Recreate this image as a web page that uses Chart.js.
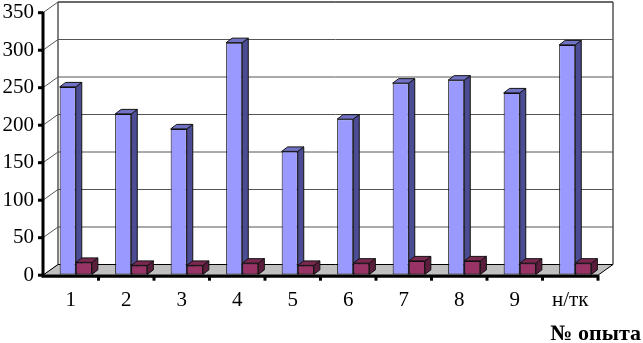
<!doctype html>
<html lang="ru">
<head>
<meta charset="utf-8">
<title>№ опыта</title>
<script src="https://cdn.jsdelivr.net/npm/chart.js@4/dist/chart.umd.min.js"></script>
<style>
  html, body { margin: 0; padding: 0; background: #fff; }
</style>
</head>
<body>
<canvas id="myChart" width="643" height="343"></canvas>
<script>
var categories = ["1", "2", "3", "4", "5", "6", "7", "8", "9", "н/тк"];
var seriesBlue = [250, 214, 194, 309, 164, 207, 255, 259, 242, 306];
var seriesRed = [16, 12, 12, 15, 12, 15, 18, 18, 15, 15];
var yMin = 0, yMax = 350, yStep = 50;
var axisTitle = "№ опыта";

// depth of the walls and of the bars
var WX = 15, WY = -10.7;
var BX = 6, BY = -4.5;
var SHIFT_X = 5, SHIFT_Y = -0.8;

var faces = [
  { side: "#4c4c94", top: "#7272c4" },
  { side: "#5a1d3b", top: "#7a2850" }
];

function box(ctx, pts, fill, stroke, lw) {
  ctx.beginPath();
  ctx.moveTo(pts[0][0], pts[0][1]);
  for (var i = 1; i < pts.length; i++) ctx.lineTo(pts[i][0], pts[i][1]);
  ctx.closePath();
  if (fill) { ctx.fillStyle = fill; ctx.fill(); }
  if (stroke) { ctx.strokeStyle = stroke; ctx.lineWidth = lw || 1; ctx.stroke(); }
}

function barFaces(ctx, bar, f) {
  var p = bar.getProps(["x", "y", "base", "width"], true);
  var l = p.x - p.width / 2, r = p.x + p.width / 2;
  var t = Math.min(p.y, p.base), b = Math.max(p.y, p.base);
  box(ctx, [[r, b], [r + BX, b + BY], [r + BX, t + BY], [r, t]], f.side, "#111", 1);
  box(ctx, [[l, t], [l + BX, t + BY], [r + BX, t + BY], [r, t]], f.top, "#111", 1);
}

function noPad(s) {
  s.paddingTop = 0; s.paddingBottom = 0; s.paddingLeft = 0; s.paddingRight = 0;
}

var frame3d = {
  id: "frame3d",
  beforeDatasetsDraw: function(chart) {
    var ctx = chart.ctx, a = chart.chartArea, y = chart.scales.y;
    var L = a.left, R = a.right, T = y.getPixelForValue(yMax), B = y.getPixelForValue(yMin);
    ctx.save();
    box(ctx, [[L + WX, T + WY], [R + WX, T + WY], [R + WX, B + WY], [L + WX, B + WY]], "#fff", "#000", 1);
    ctx.strokeStyle = "#555";
    ctx.lineWidth = 1;
    for (var v = yMin; v <= yMax; v += yStep) {
      var p = y.getPixelForValue(v);
      ctx.beginPath();
      ctx.moveTo(L, p);
      ctx.lineTo(L + WX, p + WY);
      ctx.lineTo(R + WX, p + WY);
      ctx.stroke();
    }
    box(ctx, [[L, B], [R, B], [R + WX, B + WY], [L + WX, B + WY]], "#c0c0c0", "#000", 1);
    ctx.restore();
    ctx.save();
    ctx.translate(SHIFT_X, SHIFT_Y);
  },
  afterDatasetsDraw: function(chart) {
    var ctx = chart.ctx;
    // blue faces, then the red bars again so they sit in front of the blue sides
    chart.getDatasetMeta(0).data.forEach(function(bar) { barFaces(ctx, bar, faces[0]); });
    chart.getDatasetMeta(1).data.forEach(function(bar) { bar.draw(ctx); barFaces(ctx, bar, faces[1]); });
    ctx.restore();

    var a = chart.chartArea, y = chart.scales.y;
    var L = a.left, R = a.right, T = y.getPixelForValue(yMax), B = y.getPixelForValue(yMin);
    ctx.save();
    ctx.strokeStyle = "#000";
    ctx.lineWidth = 3;
    ctx.beginPath();
    ctx.moveTo(L, T - 1);
    ctx.lineTo(L, B + 2.5);
    ctx.moveTo(L - 1.5, B + 1);
    ctx.lineTo(R, B + 1);
    ctx.stroke();
    for (var v = yMin; v <= yMax; v += yStep) {
      var p = y.getPixelForValue(v);
      ctx.beginPath();
      ctx.moveTo(L - 5, p);
      ctx.lineTo(L, p);
      ctx.stroke();
    }
    var w = (R - L) / categories.length;
    for (var k = 1; k <= categories.length; k++) {
      ctx.beginPath();
      ctx.moveTo(L + k * w, B);
      ctx.lineTo(L + k * w, B + 5.5);
      ctx.stroke();
    }
    ctx.fillStyle = "#000";
    ctx.font = 'bold 22px "Liberation Serif"';
    ctx.textAlign = "right";
    ctx.textBaseline = "alphabetic";
    ctx.fillText(axisTitle, 641, 340);
    ctx.restore();
  }
};

var ctx = document.getElementById("myChart").getContext("2d");
new Chart(ctx, {
  type: "bar",
  data: {
    labels: categories,
    datasets: [
      { data: seriesBlue, backgroundColor: "#9999ff", borderColor: "#111", borderWidth: 1, borderSkipped: false },
      { data: seriesRed, backgroundColor: "#993366", borderColor: "#111", borderWidth: 1, borderSkipped: false }
    ]
  },
  options: {
    responsive: false,
    animation: false,
    devicePixelRatio: 1,
    categoryPercentage: 0.58,
    barPercentage: 1,
    layout: { padding: { top: 12.7, right: 45, left: 0, bottom: 0 } },
    plugins: { legend: { display: false }, tooltip: { enabled: false } },
    scales: {
      x: {
        grid: { display: false, drawTicks: false },
        border: { display: false },
        ticks: { color: "#000", padding: 13, maxRotation: 0, autoSkip: false, font: { family: "Liberation Serif", size: 21 } },
        afterFit: function(s) { s.height = 67.8; noPad(s); }
      },
      y: {
        min: yMin,
        max: yMax,
        grid: { display: false, drawTicks: false },
        border: { display: false },
        ticks: { stepSize: yStep, color: "#000", padding: 9, font: { family: "Liberation Serif", size: 21 } },
        afterFit: function(s) { s.width = 43; noPad(s); }
      }
    }
  },
  plugins: [frame3d]
});
</script>
</body>
</html>
